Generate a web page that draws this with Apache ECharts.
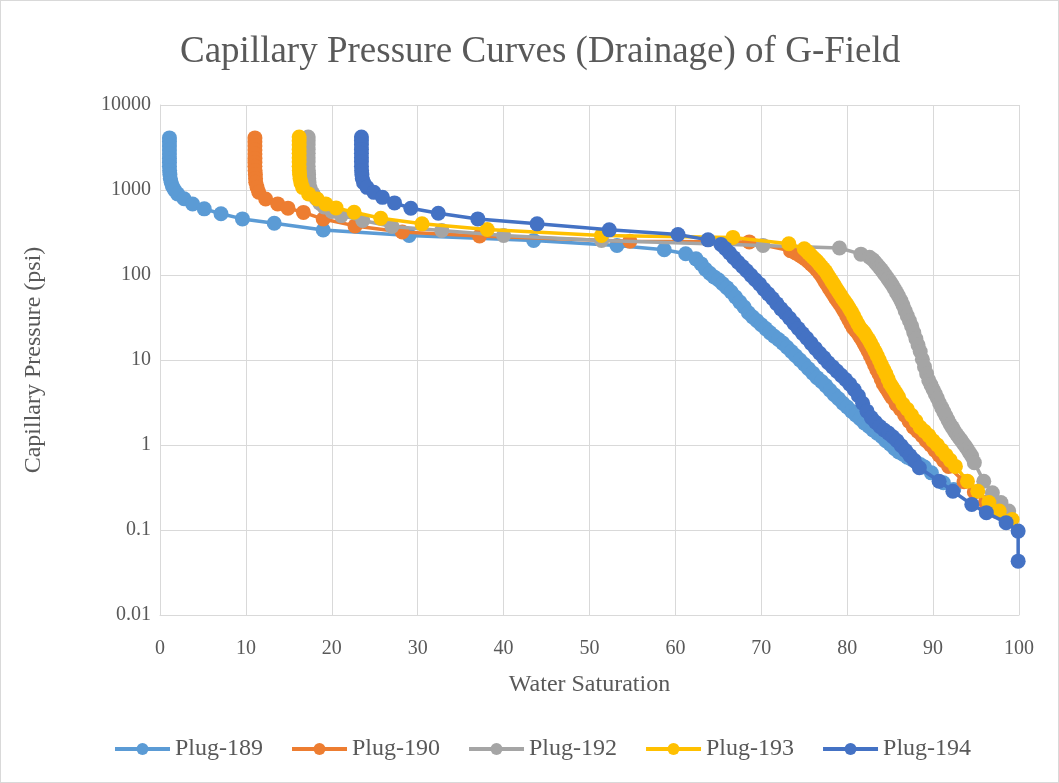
<!DOCTYPE html>
<html>
<head>
<meta charset="utf-8">
<script src="https://cdn.jsdelivr.net/npm/echarts@6/dist/echarts.min.js"></script>
<style>
html,body{margin:0;padding:0;background:#fff;}
#chart{position:absolute;left:0;top:0;width:1059px;height:783px;box-sizing:border-box;border:1px solid #d9d9d9;}
</style>
</head>
<body>
<div id="chart"></div>
<script>
const titleText = "Capillary Pressure Curves (Drainage) of G-Field";
const xName = "Water Saturation";
const yName = "Capillary Pressure (psi)";
const seriesNames = ["Plug-189", "Plug-190", "Plug-192", "Plug-193", "Plug-194"];
const seriesColors = ["#5B9BD5", "#ED7D31", "#A5A5A5", "#FFC000", "#4472C4"];
const yTickLabels = ["0.01", "0.1", "1", "10", "100", "1000", "10000"];

const plug189 = [
[1.1,4100],[1.1,3700],[1.1,3300],[1.1,2950],[1.1,2650],[1.1,2350],[1.1,2100],[1.1,1900],[1.12,1700],[1.15,1520],[1.2,1370],[1.3,1230],[1.45,1100],[1.7,1000],[2.05,900],[2.8,790],[3.8,685],[5.15,600],[7.1,525],[9.6,457],[13.3,406],[19.0,338],[29.0,292],[43.5,255],[53.2,223],[58.7,198],[61.2,178],[62.4,155],
[63,135],[63.5,117],[64,105],[64.5,95],[65,88],[65.5,79],[66,71],[66.5,63],[67,55],[67.5,48],[68,42],[68.5,36],[69,32],[69.5,29],[70,26],[70.5,23.4],[71,21],[71.5,19],[72,17.4],[72.5,15.8],[73,14.1],[73.5,12.6],[74,11.2],[74.5,10],[75,8.9],[75.5,7.9],[76,7.0],[76.5,6.2],[77,5.6],[77.5,5.0],[78,4.4],[78.5,3.9],[79,3.5],[79.5,3.1],[80,2.8],[80.5,2.5],[81,2.26],[81.5,2.04],[82,1.82],[82.5,1.66],[83,1.5],[83.5,1.38],[84,1.26],[84.5,1.12],[85,1.02],[85.5,0.91],[86,0.83],[86.5,0.78],[87,0.72],[87.5,0.68],[88,0.63],[88.5,0.59],[89,0.55],[89.8,0.47],[91.2,0.36],[92.4,0.3]
];
const plug190 = [
[11.05,4100],[11.05,3700],[11.05,3300],[11.05,2950],[11.05,2650],[11.05,2350],[11.05,2100],[11.05,1900],[11.07,1700],[11.1,1520],[11.12,1370],[11.15,1230],[11.3,1080],[11.5,940],[12.3,785],[13.7,686],[14.9,612],[16.7,545],[19.0,455],[22.7,378],[28.2,320],[37.2,288],[54.7,250],[68.6,245],[73.4,193],
[74.0,182],[74.3,176],[74.6,168],[74.9,160],[75.2,152],[75.5,143],[75.8,134],[76.1,126],[76.4,117],[76.7,108],[76.95,100],[77.2,91],[77.45,83],[77.7,76],[77.95,69],[78.2,63],[78.45,57.5],[78.7,52.5],[78.95,48.5],[79.2,44.7],[79.45,40.5],[79.7,37],[79.95,33],[80.2,29.5],[80.45,26.5],[80.7,24],[80.95,22.4],[81.2,20.9],[81.45,19],[81.7,17.4],[81.95,15.7],[82.2,14.1],[82.45,12.6],[82.7,11.2],[82.95,9.9],[83.2,8.7],[83.45,7.7],[83.7,6.9],[83.95,6.0],[84.2,5.25],[84.45,4.8],[84.7,4.37],[84.95,4.0],[85.2,3.63],[85.7,3.02],[86.2,2.63],[86.7,2.24],[87.2,1.91],[87.7,1.62],[88.2,1.45],[88.7,1.29],[89.2,1.12],[89.7,1.0],[90.2,0.87],[90.7,0.76],[91.2,0.66],[91.8,0.56],[93.6,0.37],[94.8,0.28],[96.1,0.21],[97.4,0.165],[99.0,0.13]
];
const plug192 = [
[17.25,4200],[17.25,3800],[17.25,3400],[17.25,3000],[17.25,2700],[17.25,2400],[17.25,2150],[17.25,1900],[17.27,1700],[17.3,1520],[17.32,1370],[17.35,1220],[17.5,1050],[17.8,910],[18.2,790],[18.6,700],[19.1,630],[20.0,560],[21.1,500],[23.6,437],[27.0,372],[32.8,334],[40.0,292],[51.4,255],[70.2,223],[79.1,208],[81.6,176],[82.6,162],
[83,151],[83.25,141],[83.5,132],[83.75,123],[84,115],[84.25,106],[84.5,98],[84.75,90],[85,83],[85.25,76],[85.5,69],[85.75,62],[86,56],[86.25,50],[86.5,44],[86.75,38],[87,33],[87.25,29],[87.5,25],[87.75,21],[88,17.8],[88.25,15],[88.5,12.6],[88.75,10.2],[89,8.3],[89.25,6.9],[89.5,5.75],[89.75,5.1],[90,4.5],[90.25,4.0],[90.5,3.55],[90.75,3.1],[91,2.75],[91.25,2.45],[91.5,2.19],[91.75,1.95],[92,1.74],[92.25,1.6],[92.5,1.45],[92.75,1.33],[93,1.23],[93.25,1.14],[93.5,1.05],[93.75,0.97],[94,0.89],[94.25,0.81],[94.5,0.74],[94.8,0.62],[95.9,0.375],[96.9,0.274],[97.9,0.21],[98.8,0.167]
];
const plug193 = [
[16.2,4200],[16.2,3800],[16.2,3400],[16.2,3000],[16.2,2700],[16.2,2400],[16.2,2150],[16.2,1900],[16.22,1700],[16.25,1520],[16.3,1370],[16.4,1220],[16.6,1075],[17.3,900],[18.3,785],[19.3,686],[20.5,616],[22.6,547],[25.7,465],[30.5,400],[38.1,343],[51.4,292],[66.7,277],[73.2,233],[75.0,204],
[75.25,193],[75.5,182],[75.75,172],[76,162],[76.25,153],[76.5,145],[76.75,135],[77,126],[77.25,118],[77.5,110],[77.75,100],[78,91],[78.25,83],[78.5,76],[78.75,69],[79,63],[79.25,57.5],[79.5,52.5],[79.75,48.5],[80,44.7],[80.25,40.5],[80.5,37],[80.75,33],[81,29.5],[81.25,26.5],[81.5,24],[81.75,22.4],[82,20.9],[82.25,19],[82.5,17.4],[82.75,15.7],[83,14.1],[83.25,12.6],[83.5,11.2],[83.75,9.9],[84,8.7],[84.25,7.7],[84.5,6.9],[84.75,6.0],[85,5.25],[85.25,4.8],[85.5,4.37],[85.75,4.0],[86,3.63],[86.5,3.02],[87,2.63],[87.5,2.24],[88,1.91],[88.5,1.62],[89,1.45],[89.5,1.29],[90,1.12],[90.5,1.0],[91,0.87],[91.5,0.76],[92,0.66],[92.6,0.56],[94.0,0.375],[95.2,0.286],[96.5,0.21],[97.7,0.167],[99.2,0.133]
];
const plug194 = [
[23.45,4200],[23.45,3800],[23.45,3400],[23.45,3000],[23.45,2700],[23.45,2400],[23.45,2150],[23.45,1900],[23.47,1700],[23.5,1520],[23.55,1370],[23.7,1220],[24.1,1075],[24.9,938],[25.9,820],[27.3,705],[29.2,610],[32.4,532],[37.0,457],[43.9,400],[52.3,340],[60.3,300],[63.8,259],[65.3,229],[65.8,205],
[66.3,182],[66.8,160],[67.3,141],[67.8,126],[68.3,112],[68.8,99],[69.3,88],[69.8,78],[70.3,68],[70.8,60],[71.3,53],[71.8,46],[72.3,40],[72.8,35.5],[73.3,31],[73.8,27],[74.3,23.5],[74.8,20.5],[75.3,18],[75.8,15.7],[76.3,13.7],[76.8,12],[77.3,10.6],[77.8,9.3],[78.3,8.3],[78.8,7.4],[79.3,6.6],[79.8,5.9],[80.3,5.2],[80.8,4.5],[81.3,3.8],[81.8,3.1],[82.3,2.5],[82.8,2.1],[83.3,1.85],[83.8,1.65],[84.3,1.5],[84.8,1.38],[85.3,1.25],[85.8,1.12],[86.3,0.98],[86.8,0.86],[87.3,0.75],[87.8,0.66],[88.4,0.54],[90.7,0.375],[92.3,0.286],[94.5,0.2],[96.2,0.16],[98.5,0.122],[99.9,0.097],[99.9,0.043]
];
const seriesData = [plug189, plug190, plug192, plug193, plug194];

const FONT = "'Liberation Serif', 'Times New Roman', serif";
const TXT = "#595959";

const chart = echarts.init(document.getElementById('chart'), null, {renderer: 'canvas'});
chart.setOption({
  animation: false,
  backgroundColor: '#fff',
  title: {
    text: titleText,
    left: 174,
    top: 28,
    textStyle: {fontFamily: FONT, fontSize: 37, fontWeight: 'normal', color: TXT}
  },
  legend: {
    data: seriesNames,
    left: 112,
    top: 736,
    padding: 0,
    itemWidth: 55,
    itemHeight: 15,
    itemGap: 27,
    lineStyle: {width: 4},
    textStyle: {fontFamily: FONT, fontSize: 24, color: TXT}
  },
  grid: {left: 159, right: 39, top: 104, bottom: 167, containLabel: false},
  xAxis: {
    type: 'value', min: 0, max: 100, interval: 10,
    name: xName, nameLocation: 'middle', nameGap: 58,
    nameTextStyle: {fontFamily: FONT, fontSize: 24, color: TXT},
    axisLine: {show: true, lineStyle: {color: '#D9D9D9', width: 1}},
    axisTick: {show: false},
    axisLabel: {fontFamily: FONT, fontSize: 20, color: TXT, margin: 24},
    splitLine: {show: true, lineStyle: {color: '#D9D9D9', width: 1}}
  },
  yAxis: {
    type: 'log', logBase: 10, min: 0.01, max: 10000,
    name: yName, nameLocation: 'middle', nameGap: 114, nameRotate: 90,
    nameTextStyle: {fontFamily: FONT, fontSize: 24, color: TXT},
    axisLine: {show: true, lineStyle: {color: '#D9D9D9', width: 1}},
    axisTick: {show: false},
    axisLabel: {
      fontFamily: FONT, fontSize: 20, color: TXT, margin: 9,
      formatter: function (v) {
        const e = Math.round(Math.log10(v));
        return yTickLabels[e + 2];
      }
    },
    splitLine: {show: true, lineStyle: {color: '#D9D9D9', width: 1}}
  },
  series: seriesNames.map((n, i) => ({
    name: n,
    type: 'line',
    data: seriesData[i],
    symbol: 'circle',
    symbolSize: 15,
    showSymbol: true,
    showAllSymbol: true,
    color: seriesColors[i],
    lineStyle: {width: 3.5, color: seriesColors[i]},
    itemStyle: {color: seriesColors[i]},
    z: 2 + i
  }))
});
</script>
</body>
</html>
